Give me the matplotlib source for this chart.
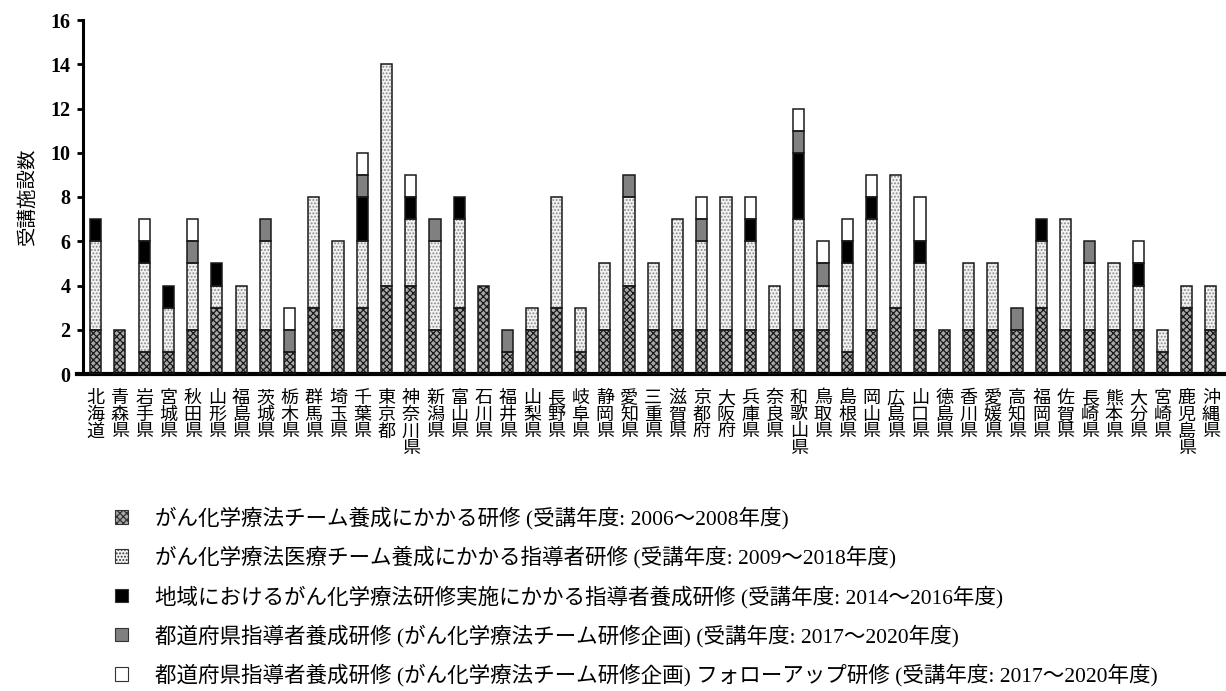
import matplotlib
matplotlib.use("Agg")
import matplotlib.pyplot as plt
from matplotlib.patches import Patch
import numpy as np

prefectures = [
    "北海道", "青森県", "岩手県", "宮城県", "秋田県", "山形県", "福島県", "茨城県",
    "栃木県", "群馬県", "埼玉県", "千葉県", "東京都", "神奈川県", "新潟県", "富山県",
    "石川県", "福井県", "山梨県", "長野県", "岐阜県", "静岡県", "愛知県", "三重県",
    "滋賀県", "京都府", "大阪府", "兵庫県", "奈良県", "和歌山県", "鳥取県", "島根県",
    "岡山県", "広島県", "山口県", "徳島県", "香川県", "愛媛県", "高知県", "福岡県",
    "佐賀県", "長崎県", "熊本県", "大分県", "宮崎県", "鹿児島県", "沖縄県",
]

# がん化学療法チーム養成にかかる研修 (2006〜2008)
team_2006 = [2, 2, 1, 1, 2, 3, 2, 2, 1, 3, 2, 3, 4, 4, 2, 3,
             4, 1, 2, 3, 1, 2, 4, 2, 2, 2, 2, 2, 2, 2, 2, 1,
             2, 3, 2, 2, 2, 2, 2, 3, 2, 2, 2, 2, 1, 3, 2]
# がん化学療法医療チーム養成にかかる指導者研修 (2009〜2018)
leader_2009 = [4, 0, 4, 2, 3, 1, 2, 4, 0, 5, 4, 3, 10, 3, 4, 4,
               0, 0, 1, 5, 2, 3, 4, 3, 5, 4, 6, 4, 2, 5, 2, 4,
               5, 6, 3, 0, 3, 3, 0, 3, 5, 3, 3, 2, 1, 1, 2]
# 地域におけるがん化学療法研修実施にかかる指導者養成研修 (2014〜2016)
regional_2014 = [1, 0, 1, 1, 0, 1, 0, 0, 0, 0, 0, 2, 0, 1, 0, 1,
                 0, 0, 0, 0, 0, 0, 0, 0, 0, 0, 0, 1, 0, 3, 0, 1,
                 1, 0, 1, 0, 0, 0, 0, 1, 0, 0, 0, 1, 0, 0, 0]
# 都道府県指導者養成研修 (2017〜2020)
pref_2017 = [0, 0, 0, 0, 1, 0, 0, 1, 1, 0, 0, 1, 0, 0, 1, 0,
             0, 1, 0, 0, 0, 0, 1, 0, 0, 1, 0, 0, 0, 1, 1, 0,
             0, 0, 0, 0, 0, 0, 1, 0, 0, 1, 0, 0, 0, 0, 0]
# 都道府県指導者養成研修 フォローアップ研修 (2017〜2020)
followup_2017 = [0, 0, 1, 0, 1, 0, 0, 0, 1, 0, 0, 1, 0, 1, 0, 0,
                 0, 0, 0, 0, 0, 0, 0, 0, 0, 1, 0, 1, 0, 1, 1, 1,
                 1, 0, 2, 0, 0, 0, 0, 0, 0, 0, 0, 1, 0, 0, 0]

series_labels = [
    "がん化学療法チーム養成にかかる研修 (受講年度: 2006～2008年度)",
    "がん化学療法医療チーム養成にかかる指導者研修 (受講年度: 2009～2018年度)",
    "地域におけるがん化学療法研修実施にかかる指導者養成研修 (受講年度: 2014～2016年度)",
    "都道府県指導者養成研修 (がん化学療法チーム研修企画) (受講年度: 2017～2020年度)",
    "都道府県指導者養成研修 (がん化学療法チーム研修企画) フォローアップ研修 (受講年度: 2017～2020年度)",
]
series_values = [team_2006, leader_2009, regional_2014, pref_2017, followup_2017]

# fill colour, hatch pattern, hatch colour for each series
styles = [
    ("#a8a8a8", "xxxxx", "#1a1a1a"),
    ("#f2f2f2", ".....", "#8a8a8a"),
    ("#000000", None, "#000000"),
    ("#808080", None, "#808080"),
    ("#ffffff", None, "#ffffff"),
]

plt.rcParams["hatch.linewidth"] = 0.9
sans_jp = ["Noto Sans CJK JP", "DejaVu Sans"]
serif_jp = ["Liberation Serif", "Noto Sans CJK JP"]

fig = plt.figure(figsize=(12.26, 6.91), dpi=100)
ax = fig.add_axes([83 / 1226, 1 - 374 / 691, (1224 - 83) / 1226, (374 - 20) / 691])

x = np.arange(len(prefectures))
width = 0.46
bottom = np.zeros(len(prefectures))
handles = []
for vals, (fc, hatch, hc), lab in zip(series_values, styles, series_labels):
    v = np.array(vals, dtype=float)
    mask = v > 0
    # hatched fill
    ax.bar(x[mask], v[mask], width, bottom=bottom[mask], color=fc,
           hatch=hatch, edgecolor=hc, linewidth=0, zorder=2)
    # segment outline
    ax.bar(x[mask], v[mask], width, bottom=bottom[mask], fill=False,
           edgecolor="#1a1a1a", linewidth=1.1, zorder=3)
    bottom += v
    handles.append(Patch(facecolor=fc, hatch=hatch, edgecolor="#333333",
                         linewidth=0.8))

ax.set_xlim(-0.52, len(prefectures) - 0.46)
ax.set_ylim(0, 16)
ax.set_yticks(np.arange(0, 17, 2))
ax.set_yticklabels([str(t) for t in range(0, 17, 2)],
                   fontfamily="Liberation Serif", fontweight="bold", fontsize=14.5)
ax.tick_params(axis="y", direction="out", length=4, width=2, pad=5)

ax.set_xticks(x)
ax.set_xticklabels(["\n".join(p) for p in prefectures], family=sans_jp,
                   fontsize=13, linespacing=0.9, va="top")
ax.tick_params(axis="x", length=0, pad=11)

for side in ("top", "right"):
    ax.spines[side].set_visible(False)
ax.spines["left"].set_linewidth(2.2)
ax.spines["bottom"].set_linewidth(3)
ax.spines["bottom"].set_bounds(-0.75, len(prefectures) - 0.46)

ax.set_ylabel("受講施設数", family=sans_jp, fontsize=14, labelpad=9)

fig.legend(handles, series_labels, loc="upper left",
           bbox_to_anchor=(115 / 1226, 1 - 507 / 691), frameon=False,
           prop={"family": serif_jp, "size": 15.5},
           handlelength=0.6, handleheight=0.6, handletextpad=1.25,
           labelspacing=0.76, borderpad=0, borderaxespad=0)

fig.savefig("out.png", dpi=100)
